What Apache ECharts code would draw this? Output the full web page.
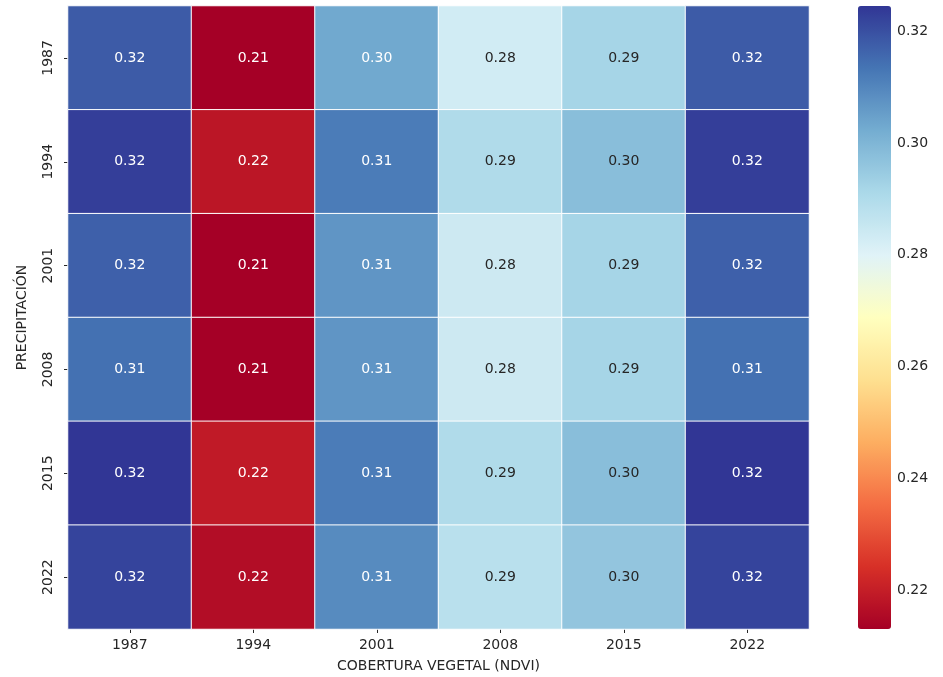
<!DOCTYPE html>
<html>
<head>
<meta charset="utf-8">
<script src="https://cdn.jsdelivr.net/npm/echarts@6/dist/echarts.min.js"></script>
<style>
  html, body { margin: 0; padding: 0; background: #fff; }
  #chart { width: 943px; height: 677px; }
</style>
</head>
<body>
<div id="chart"></div>
<script>
// años de cobertura vegetal (columnas) y de precipitación (filas)
const ndviYears = ['1987', '1994', '2001', '2008', '2015', '2022']
const precipYears = ['1987', '1994', '2001', '2008', '2015', '2022']

// correlación por fila de precipitación
const row1987 = [0.318, 0.213, 0.303, 0.283, 0.292, 0.318]
const row1994 = [0.323, 0.218, 0.312, 0.290, 0.298, 0.323]
const row2001 = [0.317, 0.213, 0.307, 0.284, 0.292, 0.317]
const row2008 = [0.314, 0.213, 0.307, 0.284, 0.292, 0.314]
const row2015 = [0.3245, 0.219, 0.312, 0.290, 0.298, 0.3245]
const row2022 = [0.322, 0.216, 0.309, 0.288, 0.296, 0.322]

const colorbarTicks = [0.22, 0.24, 0.26, 0.28, 0.30, 0.32]
const vMin = 0.213
const vMax = 0.3245

const rows = [row1987, row1994, row2001, row2008, row2015, row2022]
const RdYlBu = ['#a50026', '#d73027', '#f46d43', '#fdae61', '#fee090', '#ffffbf',
  '#e0f3f8', '#abd9e9', '#74add1', '#4575b4', '#313695']

const data = []
rows.forEach((row, y) => {
  row.forEach((v, x) => {
    const dark = v > 0.245 && v < 0.30
    data.push({
      value: [x, y, v],
      label: { color: dark ? '#262626' : '#ffffff' }
    })
  })
})

const chart = echarts.init(document.getElementById('chart'))
chart.setOption({
  animation: false,
  textStyle: { fontFamily: 'DejaVu Sans' },
  grid: [
    { left: 68, right: 134, top: 6, bottom: 48, outerBoundsMode: 'none' },
    { left: 858, width: 33, top: 6, height: 623, outerBoundsMode: 'none' }
  ],
  xAxis: [
    {
      type: 'category',
      data: ndviYears,
      gridIndex: 0,
      name: 'COBERTURA VEGETAL (NDVI)',
      nameLocation: 'middle',
      nameGap: 30,
      nameTextStyle: { color: '#262626', fontSize: 14 },
      axisLine: { show: false },
      axisTick: { show: true, alignWithLabel: true, length: 4, lineStyle: { color: '#262626' } },
      axisLabel: { color: '#262626', fontSize: 14, margin: 9 },
      splitLine: { show: false }
    },
    {
      type: 'value',
      gridIndex: 1,
      show: false
    }
  ],
  yAxis: [
    {
      type: 'category',
      data: precipYears,
      gridIndex: 0,
      inverse: true,
      name: 'PRECIPITACIÓN',
      nameLocation: 'middle',
      nameGap: 39,
      nameRotate: 90,
      nameTextStyle: { color: '#262626', fontSize: 14 },
      axisLine: { show: false },
      axisTick: { show: true, alignWithLabel: true, length: 4, lineStyle: { color: '#262626' } },
      axisLabel: { color: '#262626', fontSize: 14, rotate: 90, margin: 13 },
      splitLine: { show: false }
    },
    {
      type: 'value',
      gridIndex: 1,
      position: 'right',
      min: vMin,
      max: vMax,
      axisLine: { show: false },
      axisTick: { show: true, length: 4, lineStyle: { color: '#262626' }, customValues: colorbarTicks },
      axisLabel: {
        color: '#262626', fontSize: 14, margin: 6,
        customValues: colorbarTicks,
        formatter: v => v.toFixed(2)
      },
      splitLine: { show: false }
    }
  ],
  visualMap: {
    type: 'continuous',
    min: vMin,
    max: vMax,
    calculable: false,
    orient: 'vertical',
    left: 858,
    top: 6,
    padding: 0,
    itemWidth: 33,
    itemHeight: 623,
    text: null,
    showLabel: false,
    seriesIndex: 0,
    inRange: { color: RdYlBu }
  },
  series: [
    {
      type: 'heatmap',
      xAxisIndex: 0,
      yAxisIndex: 0,
      data: data,
      label: {
        show: true,
        fontSize: 14,
        formatter: p => p.value[2].toFixed(2)
      },
      itemStyle: { borderColor: '#ffffff', borderWidth: 1 },
      emphasis: { disabled: true }
    }
  ]
})
</script>
</body>
</html>
